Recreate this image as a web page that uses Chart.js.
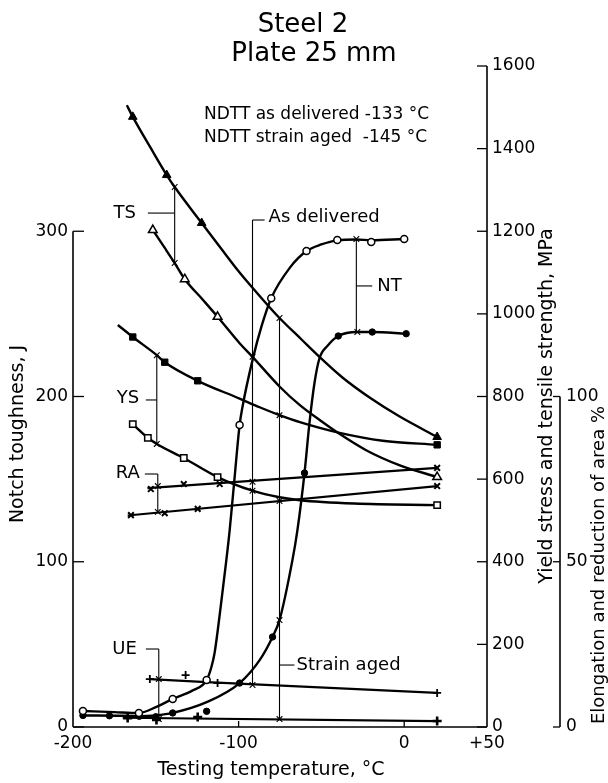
<!DOCTYPE html>
<html>
<head>
<meta charset="utf-8">
<script src="https://cdn.jsdelivr.net/npm/chart.js@4.4.1/dist/chart.umd.min.js"></script>
<style>
  html, body { margin: 0; padding: 0; background: #fff; }
  canvas { display: block; }
</style>
</head>
<body>
<canvas id="chart" width="608" height="783"></canvas>
<script>
// tick values
const tempTicks = [-200, -100, 0, 50];
const toughTicks = [0, 100, 200, 300];
const stressTicks = [0, 200, 400, 600, 800, 1000, 1200, 1400, 1600];
const pctTicks = [0, 50, 100];

// tensile strength, MPa  [temperature, value]
const tsAgedCurve = [[-167.5, 1505], [-163.9, 1477], [-153, 1401], [-143.4, 1336], [-138.6, 1307], [-122.3, 1220],
  [-110, 1155], [-99.4, 1100], [-87, 1042], [-75.3, 990], [-62, 938], [-51.2, 896], [-37.3, 846], [-20, 795], [-3, 752], [19.9, 702]];
const tsAgedPts = [[-163.9, 1477], [-143.4, 1336], [-122.3, 1220], [19.9, 702]];
const tsDelCurve = [[-151.8, 1203], [-145, 1162], [-138.6, 1123], [-132.5, 1084], [-122, 1036], [-112.7, 993], [-99.4, 929],
  [-91.6, 896], [-75, 823], [-63, 779], [-50, 740], [-40, 712], [-23, 670], [-3, 634], [19.9, 605]];
const tsDelPts = [[-151.8, 1203], [-132.5, 1084], [-112.7, 993], [19.9, 605]];

// yield stress, MPa
const ysAgedCurve = [[-172.9, 973], [-163.9, 944], [-149.4, 900], [-144.6, 883], [-124.7, 838], [-99.4, 795], [-87.3, 774],
  [-75.3, 755], [-63, 738], [-39, 712], [-13, 693], [19.9, 683]];
const ysAgedPts = [[-163.9, 944], [-144.6, 883], [-124.7, 838], [19.9, 683]];
const ysDelCurve = [[-163.9, 733], [-154.8, 700], [-149.4, 685], [-133.1, 651], [-112.7, 605], [-91.6, 572], [-75.3, 556],
  [-63, 549], [-30, 541], [19.9, 537]];
const ysDelPts = [[-163.9, 733], [-154.8, 700], [-133.1, 651], [-112.7, 605], [19.9, 537]];

// reduction of area and uniform elongation, %
const raUpperLine = [[-155, 72.3], [19.9, 78.4]];
const raUpperPts = [[-153, 72.0], [-133.1, 73.5], [-111.4, 73.5], [19.9, 78.4]];
const raLowerLine = [[-167, 64.0], [19.9, 72.9]];
const raLowerPts = [[-165, 64.1], [-144.6, 64.7], [-124.7, 66.0], [19.9, 72.9]];
const ueUpperLine = [[-153.6, 14.5], [-119.3, 13.6], [19.9, 10.3]];
const ueUpperPts = [[-153.6, 14.5], [-132, 15.7], [-112.7, 13.3], [19.9, 10.3]];
const ueLowerLine = [[-170, 2.8], [19.9, 1.8]];
const ueLowerPts = [[-167, 2.7], [-149.6, 2.1], [-124.7, 3.0], [19.9, 1.8]];

// notch toughness, J
const ntDelCurve = [[-194, 9.7], [-175, 9], [-160.2, 8.5], [-150, 12], [-139.8, 17], [-128, 22], [-119.3, 28.4], [-116.5, 36],
  [-114.5, 44.8], [-111.4, 68], [-107.4, 101], [-105.4, 119], [-102.5, 150], [-99.4, 182.7], [-97.6, 194], [-91.6, 222],
  [-86, 243], [-80.3, 259.5], [-69, 278], [-59, 288], [-50, 292], [-40.4, 294.5], [-29, 295], [-19.9, 294.5], [0, 295.3]];
const ntDelPts = [[-194, 9.7], [-160.2, 8.5], [-139.8, 17], [-119.3, 28.4], [-99.4, 182.7], [-80.3, 259.5], [-59, 288],
  [-40.4, 294.7], [-19.9, 293.5], [0, 295.3]];
const ntAgedCurve = [[-194, 7], [-170, 6.8], [-160, 6.5], [-150, 7], [-139.8, 8.5], [-119.3, 15], [-99.4, 26.6], [-87.3, 40.5],
  [-79.5, 54.5], [-75.3, 64.7], [-67.5, 101], [-64.5, 119], [-60.2, 153.7], [-57.2, 184], [-54.2, 208], [-51.2, 223],
  [-46, 231], [-39.8, 236.6], [-28.3, 239], [-19.3, 239], [1.2, 238]];
const ntAgedPts = [[-194, 7], [-178, 6.8], [-160, 6.5], [-150, 6.2], [-139.8, 8.5], [-119.3, 9.5], [-99.4, 26.6],
  [-79.5, 54.5], [-60.2, 153.7], [-39.8, 236.6], [-19.3, 239], [1.2, 238]];

// leader lines for the curve labels, in J units of the left axis
const leaderLines = [
  [[-154.8, 311], [-138.6, 311]], [[-138.6, 326.8], [-138.6, 280.8]],
  [[-156, 197.9], [-149.4, 197.9]], [[-149.4, 225], [-149.4, 171.3]],
  [[-156.6, 153.1], [-148.8, 153.1]], [[-148.8, 153.1], [-148.8, 130.2]],
  [[-156, 47.2], [-148.2, 47.2]], [[-148.2, 47.2], [-148.2, 4.8]],
  [[-28.9, 295.3], [-28.9, 239]], [[-28.9, 266.9], [-19.3, 266.9]],
  [[-91.6, 306.8], [-84.3, 306.8]], [[-91.6, 306.8], [-91.6, 25.4]],
  [[-75.3, 247.5], [-75.3, 4.8]], [[-75.3, 37.5], [-66.3, 37.5]]
];
const leaderMarks = [[-138.6, 326.8], [-138.6, 280.8], [-149.4, 225], [-149.4, 171.3], [-148.8, 145.8], [-148.8, 130.2],
  [-148.2, 29], [-148.2, 4.8], [-28.9, 295.3], [-28.3, 239], [-91.6, 224], [-91.6, 143], [-91.6, 148.4], [-91.6, 25.4],
  [-75.3, 247.5], [-75.3, 188.7], [-75.3, 64.7], [-75.3, 136.8], [-75.3, 4.8]];
const leaderLabels = [
  ["TS", -162, 311, "right"], ["YS", -160, 199, "right"], ["RA", -159.6, 153.5, "right"], ["UE", -161.4, 47.2, "right"],
  ["NT", -16.3, 266.9, "left"], ["As delivered", -81.9, 308.6, "left"], ["Strain aged", -65, 37.5, "left"]
];

const FONT = '"DejaVu Sans", sans-serif';
const TICK_FONT = '"Liberation Sans Narrow", "DejaVu Sans", sans-serif';
const pts = (arr) => arr.map(([x, y]) => ({ x, y }));

function curve(arr, axis) {
  return {
    data: pts(arr), yAxisID: axis, showLine: true, borderColor: "#000", borderWidth: 2.4,
    pointRadius: 0, cubicInterpolationMode: "monotone", order: 1
  };
}
function straight(arr, axis, width) {
  return {
    data: pts(arr), yAxisID: axis, showLine: true, borderColor: "#000", borderWidth: width,
    pointRadius: 0, tension: 0, order: width < 2 ? 2 : 1
  };
}
function marks(arr, axis, style, radius, fill, bw) {
  return {
    data: pts(arr), yAxisID: axis, showLine: false, pointStyle: style, pointRadius: radius,
    pointBackgroundColor: fill, pointBorderColor: "#000", pointBorderWidth: bw, order: 0
  };
}

const datasets = [
  curve(tsAgedCurve, "yMPa"), marks(tsAgedPts, "yMPa", "triangle", 5, "#000", 1),
  curve(tsDelCurve, "yMPa"), marks(tsDelPts, "yMPa", "triangle", 5, "#fff", 1.5),
  curve(ysAgedCurve, "yMPa"), marks(ysAgedPts, "yMPa", "rect", 4.5, "#000", 1),
  curve(ysDelCurve, "yMPa"), marks(ysDelPts, "yMPa", "rect", 4.5, "#fff", 1.5),
  straight(raUpperLine, "yPct", 2.2), marks(raUpperPts, "yPct", "crossRot", 4, "#000", 2),
  straight(raLowerLine, "yPct", 2.2), marks(raLowerPts, "yPct", "crossRot", 4, "#000", 2),
  straight(ueUpperLine, "yPct", 2.2), marks(ueUpperPts, "yPct", "cross", 4, "#000", 1.8),
  straight(ueLowerLine, "yPct", 2.2), marks(ueLowerPts, "yPct", "cross", 4.5, "#000", 2.6),
  curve(ntDelCurve, "yJ"), marks(ntDelPts, "yJ", "circle", 3.5, "#fff", 1.5),
  curve(ntAgedCurve, "yJ"), marks(ntAgedPts, "yJ", "circle", 3.2, "#000", 1),
  marks(leaderMarks, "yJ", "crossRot", 4, "#000", 1.1)
];
leaderLines.forEach((seg) => datasets.push(straight(seg, "yJ", 1.1)));

// axis lines, tick marks and all free text
const framePlugin = {
  id: "frame",
  afterDraw(chart) {
    const { ctx, scales } = chart;
    const x = scales.x, yJ = scales.yJ, yM = scales.yMPa, yP = scales.yPct;
    ctx.save();
    ctx.strokeStyle = "#000";
    ctx.fillStyle = "#000";
    ctx.lineWidth = 1.6;
    const seg = (x1, y1, x2, y2) => { ctx.beginPath(); ctx.moveTo(x1, y1); ctx.lineTo(x2, y2); ctx.stroke(); };

    const bottom = yJ.getPixelForValue(0);
    const left = x.getPixelForValue(-200);
    const right = x.getPixelForValue(50);
    seg(left, bottom, right, bottom);
    seg(left, bottom, left, yJ.getPixelForValue(300));
    seg(right, bottom, right, yM.getPixelForValue(1600));
    seg(yP.left, bottom, yP.left, yP.getPixelForValue(100));
    ctx.lineWidth = 1.3;
    toughTicks.forEach((v) => { const p = yJ.getPixelForValue(v); seg(left, p, left + 11, p); });
    stressTicks.forEach((v) => { const p = yM.getPixelForValue(v); seg(right - 10, p, right, p); });
    pctTicks.forEach((v) => { const p = yP.getPixelForValue(v); seg(yP.left - 7, p, yP.left, p); });
    [-100, 0].forEach((v) => { const p = x.getPixelForValue(v); seg(p, bottom, p, bottom - 6); });

    ctx.textBaseline = "middle";
    ctx.font = "26px " + FONT;
    ctx.textAlign = "center";
    ctx.fillText("Steel 2", 303, 25);
    ctx.fillText("Plate 25 mm", 314, 54);

    ctx.font = "17px " + FONT;
    ctx.textAlign = "left";
    ctx.fillText("NDTT as delivered -133 °C", 204, 115);
    ctx.fillText("NDTT strain aged  -145 °C", 204, 138);

    ctx.font = "18px " + FONT;
    leaderLabels.forEach(([text, tx, ty, align]) => {
      ctx.textAlign = align;
      ctx.fillText(text, x.getPixelForValue(tx), yJ.getPixelForValue(ty));
    });

    ctx.font = "19px " + FONT;
    ctx.textAlign = "center";
    ctx.fillText("Testing temperature, °C", 271, 770);

    const vtext = (s, cx, cy, size) => {
      ctx.save();
      ctx.font = size + "px " + FONT;
      ctx.translate(cx, cy);
      ctx.rotate(-Math.PI / 2);
      ctx.textAlign = "center";
      ctx.fillText(s, 0, 0);
      ctx.restore();
    };
    vtext("Notch toughness, J", 18, 434, 19);
    vtext("Yield stress and tensile strength, MPa", 547, 406, 19);
    vtext("Elongation and reduction of area %", 599, 565, 18);
    ctx.restore();
  }
};

const fixedTicks = (list) => (scale) => { scale.ticks = list.map((v) => ({ value: v })); };
const plainAxis = {
  grid: { display: false, drawTicks: false },
  border: { display: false }
};
const tickFont = { family: TICK_FONT, size: 17 };

new Chart(document.getElementById("chart"), {
  type: "scatter",
  data: { datasets },
  options: {
    responsive: false,
    animation: false,
    events: [],
    layout: { padding: { top: 66, left: 0, right: 0, bottom: 0 } },
    plugins: { legend: { display: false }, tooltip: { enabled: false } },
    scales: {
      x: {
        ...plainAxis, type: "linear", min: -200, max: 50,
        afterBuildTicks: fixedTicks(tempTicks),
        afterFit: (s) => { s.height = 56; },
        ticks: { autoSkip: false, maxRotation: 0, padding: 6, color: "#000", font: tickFont,
          callback: (v) => (v > 0 ? "+" + v : String(v)) }
      },
      yJ: {
        ...plainAxis, position: "left", min: 0, max: 400,
        afterBuildTicks: fixedTicks(toughTicks),
        afterFit: (s) => { s.width = 73; },
        ticks: { padding: 5, color: "#000", font: tickFont, callback: (v) => String(v) }
      },
      yMPa: {
        ...plainAxis, position: "right", min: 0, max: 1600,
        afterBuildTicks: fixedTicks(stressTicks),
        afterFit: (s) => { s.width = 73; },
        ticks: { padding: 5, color: "#000", font: tickFont, callback: (v) => String(v) }
      },
      yPct: {
        ...plainAxis, position: "right", min: 0, max: 200,
        afterBuildTicks: fixedTicks(pctTicks),
        afterFit: (s) => { s.width = 48; },
        ticks: { padding: 6, color: "#000", font: tickFont, callback: (v) => String(v) }
      }
    }
  },
  plugins: [framePlugin]
});
</script>
</body>
</html>
